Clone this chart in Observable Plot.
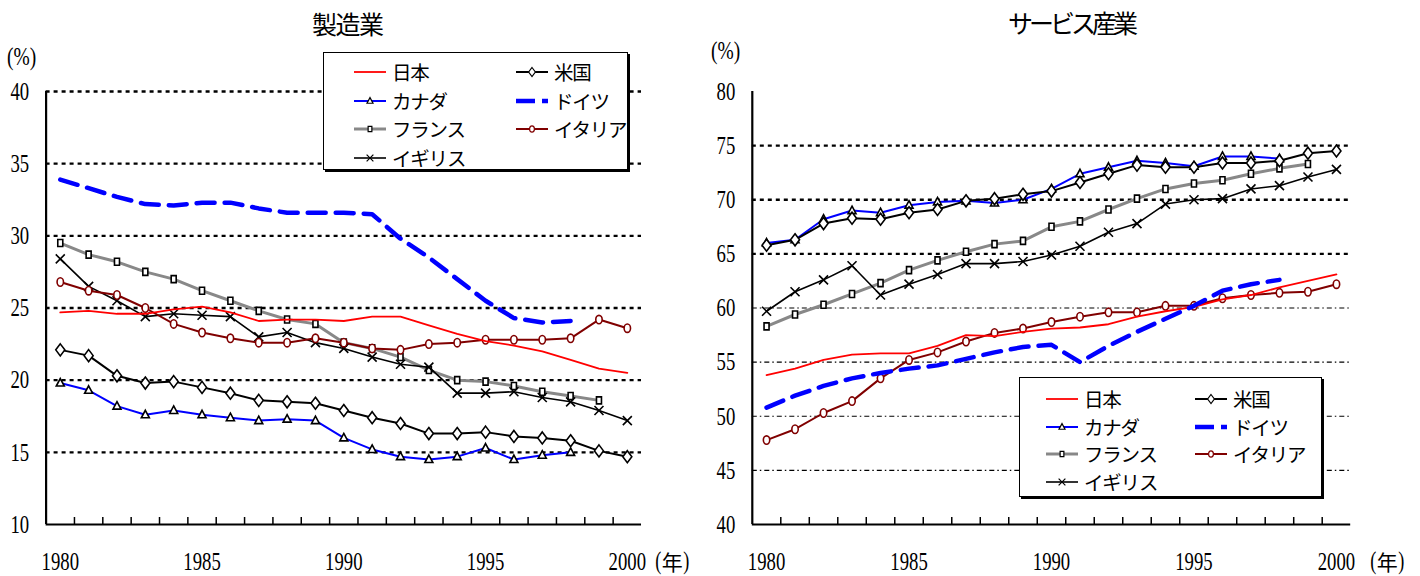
<!DOCTYPE html>
<html><head><meta charset="utf-8">
<script src="https://cdn.jsdelivr.net/npm/d3@7"></script>
<script src="https://cdn.jsdelivr.net/npm/@observablehq/plot@0.6"></script>
<style>
body{margin:0;background:#fff;}
#wrap{position:relative;width:1420px;height:576px;overflow:hidden;background:#fff;}
.panel{position:absolute;top:0;}
.jp{position:absolute;font-family:"Noto Sans CJK JP";color:#000;white-space:nowrap;line-height:1;}
.ser{position:absolute;font-family:"Liberation Serif";color:#000;white-space:nowrap;line-height:1;transform-origin:0 50%;}
.legend{position:absolute;background:#fff;border:1.5px solid #000;box-shadow:2px 2px 0 #000;}
.legend .item{position:absolute;height:22px;display:flex;align-items:center;white-space:nowrap;}
.legend .item span{font-family:"Noto Sans CJK JP";font-size:19.5px;letter-spacing:-1.2px;margin-left:5px;line-height:20px;white-space:nowrap;}
</style></head><body><div id="wrap"></div>
<script>
// ---- data ----
const years = d3.range(1980, 2001);
const countries = ["日本", "米国", "カナダ", "ドイツ", "フランス", "イタリア", "イギリス"];
// 製造業 (%)
const mfgJapan   = [24.7,24.8,24.6,24.6,24.9,25.1,24.7,24.1,24.2,24.2,24.1,24.4,24.4,23.8,23.2,22.7,22.4,22.0,21.4,20.8,20.5];
const mfgUSA     = [22.1,21.7,20.3,19.8,19.9,19.5,19.1,18.6,18.5,18.4,17.9,17.4,17.0,16.3,16.3,16.4,16.1,16.0,15.8,15.1,14.7];
const mfgCanada  = [19.8,19.3,18.2,17.6,17.9,17.6,17.4,17.2,17.3,17.2,16.0,15.2,14.7,14.5,14.7,15.3,14.5,14.8,15.0];
const mfgGermany = [33.9,33.3,32.7,32.2,32.1,32.3,32.3,31.9,31.6,31.6,31.6,31.5,29.8,28.5,27.0,25.5,24.3,24.0,24.1];
const mfgFrance  = [29.5,28.7,28.2,27.5,27.0,26.2,25.5,24.8,24.2,23.9,22.6,22.2,21.6,20.7,20.0,19.9,19.6,19.2,18.9,18.6];
const mfgItaly   = [26.8,26.2,25.9,25.0,23.9,23.3,22.9,22.6,22.6,22.9,22.6,22.2,22.1,22.5,22.6,22.8,22.8,22.8,22.9,24.2,23.6];
const mfgUK      = [28.4,26.5,25.5,24.4,24.6,24.5,24.4,23.0,23.3,22.6,22.2,21.6,21.1,20.9,19.1,19.1,19.2,18.8,18.5,17.9,17.2];
// サービス産業 (%)
const svcJapan   = [53.8,54.4,55.2,55.7,55.8,55.8,56.5,57.5,57.4,57.8,58.1,58.2,58.5,59.2,59.7,60.1,60.8,61.2,61.9,62.5,63.1];
const svcUSA     = [65.8,66.3,67.8,68.3,68.2,68.8,69.1,69.9,70.1,70.5,70.8,71.6,72.4,73.2,73.0,73.0,73.4,73.4,73.6,74.3,74.5];
const svcCanada  = [66.0,66.3,68.2,69.0,68.8,69.5,69.8,69.9,69.7,70.0,71.0,72.4,73.0,73.6,73.4,73.1,74.0,74.0,73.8];
const svcGermany = [50.8,51.9,52.8,53.5,54.0,54.4,54.7,55.3,55.9,56.4,56.6,55.0,56.5,57.8,59.0,60.2,61.6,62.2,62.6];
const svcFrance  = [58.3,59.4,60.3,61.3,62.3,63.5,64.4,65.2,65.9,66.2,67.5,68.0,69.1,70.1,71.0,71.5,71.8,72.4,72.9,73.3];
const svcItaly   = [47.8,48.8,50.3,51.4,53.5,55.2,55.9,56.9,57.7,58.1,58.7,59.2,59.6,59.6,60.2,60.2,60.9,61.2,61.4,61.5,62.2];
const svcUK      = [59.7,61.5,62.6,63.9,61.2,62.2,63.1,64.1,64.1,64.3,64.9,65.7,67.0,67.8,69.6,70.0,70.1,71.0,71.3,72.1,72.8];
// ticks
const xLabelTicks = [1980, 1985, 1990, 1995, 2000];
const mfgYTicks = [10, 15, 20, 25, 30, 35, 40];
const svcYTicks = [40, 45, 50, 55, 60, 65, 70, 75, 80];

// ---- symbols ----
const symDiamond = {draw(c){c.moveTo(0,-6);c.lineTo(4.5,0);c.lineTo(0,6);c.lineTo(-4.5,0);c.closePath();}};
const symTri = {draw(c){c.moveTo(0,-4.5);c.lineTo(4,3);c.lineTo(-4,3);c.closePath();}};
const symSquare = {draw(c){c.rect(-2.5,-3.5,5,7);}};
const symEllipse = {draw(c){const a=3.2,b=4.2,k=0.5523;c.moveTo(a,0);
  c.bezierCurveTo(a,b*k,a*k,b,0,b);c.bezierCurveTo(-a*k,b,-a,b*k,-a,0);
  c.bezierCurveTo(-a,-b*k,-a*k,-b,0,-b);c.bezierCurveTo(a*k,-b,a,-b*k,a,0);c.closePath();}};
const symX = {draw(c){c.moveTo(-4.5,-4.5);c.lineTo(4.5,4.5);c.moveTo(4.5,-4.5);c.lineTo(-4.5,4.5);}};

const styles = {
  "日本":   {stroke:"#ff0000", strokeWidth:1.8},
  "米国":   {stroke:"#000", strokeWidth:2, sym:symDiamond, symStroke:"#000", fill:"#fff"},
  "カナダ": {stroke:"#0000ff", strokeWidth:2, sym:symTri, symStroke:"#000", fill:"#fff"},
  "ドイツ": {stroke:"#0000ff", strokeWidth:4.5, dash:"18,10"},
  "フランス": {stroke:"#888", strokeWidth:3, sym:symSquare, symStroke:"#000", fill:"#fff"},
  "イタリア": {stroke:"#800000", strokeWidth:2, sym:symEllipse, symStroke:"#800000", fill:"#fff"},
  "イギリス": {stroke:"#000", strokeWidth:1.6, sym:symX, symStroke:"#000", fill:"none"}
};
const rows = (vals, country) => vals.map((v, i) => ({year: years[i], value: v, country}));

function panel({series, yDomain, yTicks, thickMin, showTop, marginLeft, marginRight, tickPadY}) {
  const grid = yTicks.filter(t => t > yDomain[0] && (showTop || t < yDomain[1]));
  const boundaries = years.map(y => y + 0.5).slice(0, -1);
  const marks = [
    Plot.ruleY(grid.filter(g => g >= thickMin), {stroke:"#000", strokeWidth:2.3, strokeDasharray:"4,4"}),
    Plot.ruleY(grid.filter(g => g < thickMin), {stroke:"#000", strokeWidth:1.1, strokeDasharray:"5,3,1.5,3"}),
    Plot.ruleX([1979.5], {stroke:"#000", strokeWidth:2.2}),
    Plot.ruleY([yDomain[0]], {stroke:"#000", strokeWidth:2.2}),
    Plot.tickX(boundaries, {x: d => d, insetTop: 426, stroke:"#000", strokeWidth:1.5}),
    Plot.axisX({ticks: xLabelTicks, tickSize: 0, tickPadding: 27, fontSize: 26, fontFamily: "Liberation Serif", tickFormat: d => String(d), label: null}),
    Plot.axisY({ticks: yTicks, tickSize: 0, tickPadding: tickPadY, fontSize: 26, fontFamily: "Liberation Serif", label: null})
  ];
  for (const [country, vals] of series) {
    const s = styles[country];
    const data = rows(vals, country);
    marks.push(Plot.line(data, {x:"year", y:"value", stroke:s.stroke, strokeWidth:s.strokeWidth, strokeDasharray:s.dash}));
    if (s.sym) marks.push(Plot.dot(data, {x:"year", y:"value", symbol:s.sym, stroke:s.symStroke, fill:s.fill, strokeWidth:1.6}));
  }
  const svg = Plot.plot({
    width: 710, height: 576,
    marginLeft, marginRight, marginTop: 91, marginBottom: 52,
    x: {domain: [1979.5, 2000.5], label: null},
    y: {domain: yDomain, label: null},
    style: {fontFamily: "Liberation Serif", background: "transparent", overflow: "visible"},
    marks
  });
  d3.select(svg).selectAll('g[aria-label$="tick label"] text').each(function() {
    const t = this.getAttribute("transform") || "";
    this.setAttribute("transform", t + " scale(0.72,1)");
  });
  return svg;
}

const wrap = document.getElementById("wrap");
const left = panel({
  series: [["フランス", mfgFrance], ["イギリス", mfgUK], ["イタリア", mfgItaly], ["日本", mfgJapan], ["米国", mfgUSA], ["カナダ", mfgCanada], ["ドイツ", mfgGermany]],
  yDomain: [10, 40], yTicks: mfgYTicks, thickMin: 0, showTop: true,
  marginLeft: 45.6, marginRight: 69, tickPadY: 17
});
left.classList.add("panel"); left.style.left = "0px";
wrap.appendChild(left);
const right = panel({
  series: [["フランス", svcFrance], ["イギリス", svcUK], ["イタリア", svcItaly], ["日本", svcJapan], ["ドイツ", svcGermany], ["カナダ", svcCanada], ["米国", svcUSA]],
  yDomain: [40, 80], yTicks: svcYTicks, thickMin: 65, showTop: false,
  marginLeft: 41.8, marginRight: 69.8, tickPadY: 17
});
right.classList.add("panel"); right.style.left = "710px";
wrap.appendChild(right);

// ---- texts ----
function addText(cls, txt, x, y, size, extra) {
  const d = document.createElement("div");
  d.className = cls; d.textContent = txt;
  d.style.left = x + "px"; d.style.top = y + "px"; d.style.fontSize = size + "px";
  if (extra) Object.assign(d.style, extra);
  wrap.appendChild(d);
  return d;
}
addText("jp", "製造業", 312, 11, 25, {letterSpacing:"-1.5px"});
addText("jp", "サービス産業", 1008, 10, 25, {letterSpacing:"-4px"});
addText("ser", "(%)", 7, 44, 26, {transform:"scaleX(0.75)"});
addText("ser", "(%)", 711, 38, 26, {transform:"scaleX(0.75)"});
function nen(x) {
  const d = document.createElement("div");
  d.style.cssText = `position:absolute;left:${x}px;top:548px;height:26px;display:flex;align-items:center;white-space:nowrap;`;
  d.innerHTML = `<span style="font-family:'Liberation Serif';font-size:26px;display:inline-block;transform:scaleX(0.7);">(</span><span style="font-family:'Noto Sans CJK JP';font-size:21px;margin:0 -1px;">年</span><span style="font-family:'Liberation Serif';font-size:26px;display:inline-block;transform:scaleX(0.7);">)</span>`;
  wrap.appendChild(d);
}
nen(654); nen(1369);

// ---- legends ----
function swatch(country) {
  const s = styles[country];
  const w = 34, h = 14;
  let inner = `<line x1="1" y1="7" x2="33" y2="7" stroke="${s.stroke}" stroke-width="${Math.min(s.strokeWidth, 4.5)}" ${s.dash ? 'stroke-dasharray="19,7,6,20"' : ''}/>`;
  if (s.sym) {
    const p = d3.path(); s.sym.draw(p, 20);
    inner += `<path transform="translate(17,7) scale(0.75)" d="${p.toString()}" fill="${s.fill}" stroke="${s.symStroke}" stroke-width="1.6"/>`;
  }
  return `<svg width="${w}" height="${h}" style="display:block;flex:none">${inner}</svg>`;
}
function legend(x, y, w, h, rowsY, col1, col2) {
  const box = document.createElement("div");
  box.className = "legend";
  box.style.cssText = `left:${x}px;top:${y}px;width:${w}px;height:${h}px;`;
  const layout = [["日本", col1, 0], ["米国", col2, 0], ["カナダ", col1, 1], ["ドイツ", col2, 1], ["フランス", col1, 2], ["イタリア", col2, 2], ["イギリス", col1, 3]];
  for (const [c, cx, r] of layout) {
    const it = document.createElement("div");
    it.className = "item";
    it.style.left = cx + "px"; it.style.top = (rowsY[r] - 11) + "px";
    it.innerHTML = swatch(c) + `<span>${c}</span>`;
    box.appendChild(it);
  }
  wrap.appendChild(box);
}
legend(323, 52, 303, 116, [19, 48, 76, 105], 29, 191);
legend(1019, 377, 301, 118, [21, 49, 76, 104], 25, 174);
</script></body></html>
